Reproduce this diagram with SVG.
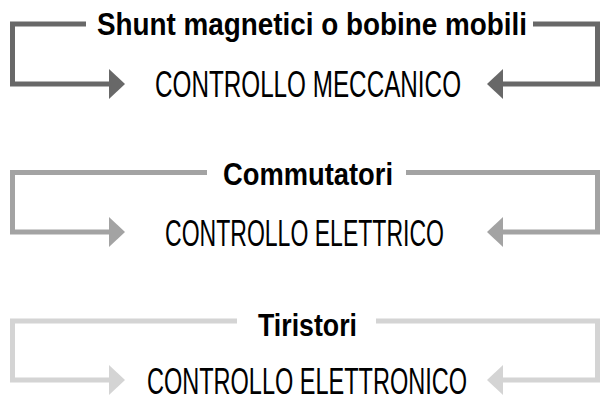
<svg xmlns="http://www.w3.org/2000/svg" width="601" height="400" viewBox="0 0 601 400">
  <defs>
    <marker id="a1" markerUnits="userSpaceOnUse" viewBox="0 0 16 30" refX="0" refY="15" markerWidth="16" markerHeight="30" orient="auto"><path d="M0,0 L16,15 L0,30 Z" fill="#686868"/></marker>
    <marker id="a2" markerUnits="userSpaceOnUse" viewBox="0 0 16 30" refX="0" refY="15" markerWidth="16" markerHeight="30" orient="auto"><path d="M0,0 L16,15 L0,30 Z" fill="#a3a3a3"/></marker>
    <marker id="a3" markerUnits="userSpaceOnUse" viewBox="0 0 16 30" refX="0" refY="15" markerWidth="16" markerHeight="30" orient="auto"><path d="M0,0 L16,15 L0,30 Z" fill="#d4d4d4"/></marker>
  </defs>
  <style>
    .ln { fill: none; stroke-width: 5; stroke-linejoin: miter; }
    .c1 { stroke: #686868; marker-end: url(#a1); }
    .c2 { stroke: #a3a3a3; marker-end: url(#a2); }
    .c3 { stroke: #d4d4d4; marker-end: url(#a3); }
    .title { font-family: "Liberation Sans", Arial, sans-serif; font-weight: bold; font-size: 32px; fill: #000; }
    .body { font-family: "Liberation Sans", Arial, sans-serif; font-size: 36px; fill: #000; }
  </style>
  <g id="connectors">
    <polyline class="ln c1" points="86,24 12.5,24 12.5,84 109,84"/>
    <polyline class="ln c1" points="533,24 597.5,24 597.5,84 503,84"/>
    <polyline class="ln c2" points="207,172.5 12.5,172.5 12.5,232 109,232"/>
    <polyline class="ln c2" points="406,172.5 597.5,172.5 597.5,232 503,232"/>
    <polyline class="ln c3" points="237,321 12.5,321 12.5,380 109,380"/>
    <polyline class="ln c3" points="376,321 597.5,321 597.5,380 503,380"/>
  </g>
  <g id="title-shunt">
    <text class="title" x="97" y="35" textLength="430" lengthAdjust="spacingAndGlyphs">Shunt magnetici o bobine mobili</text>
  </g>
  <g id="controllo-meccanico">
    <text class="body" x="155" y="97" textLength="306" lengthAdjust="spacingAndGlyphs">CONTROLLO MECCANICO</text>
  </g>
  <g id="title-commutatori">
    <text class="title" x="223" y="184.5" textLength="170" lengthAdjust="spacingAndGlyphs">Commutatori</text>
  </g>
  <g id="controllo-elettrico">
    <text class="body" x="165" y="246" textLength="279" lengthAdjust="spacingAndGlyphs">CONTROLLO ELETTRICO</text>
  </g>
  <g id="title-tiristori">
    <text class="title" x="258" y="336" textLength="99" lengthAdjust="spacingAndGlyphs">Tiristori</text>
  </g>
  <g id="controllo-elettronico">
    <text class="body" x="147" y="394" textLength="320" lengthAdjust="spacingAndGlyphs">CONTROLLO ELETTRONICO</text>
  </g>
</svg>
